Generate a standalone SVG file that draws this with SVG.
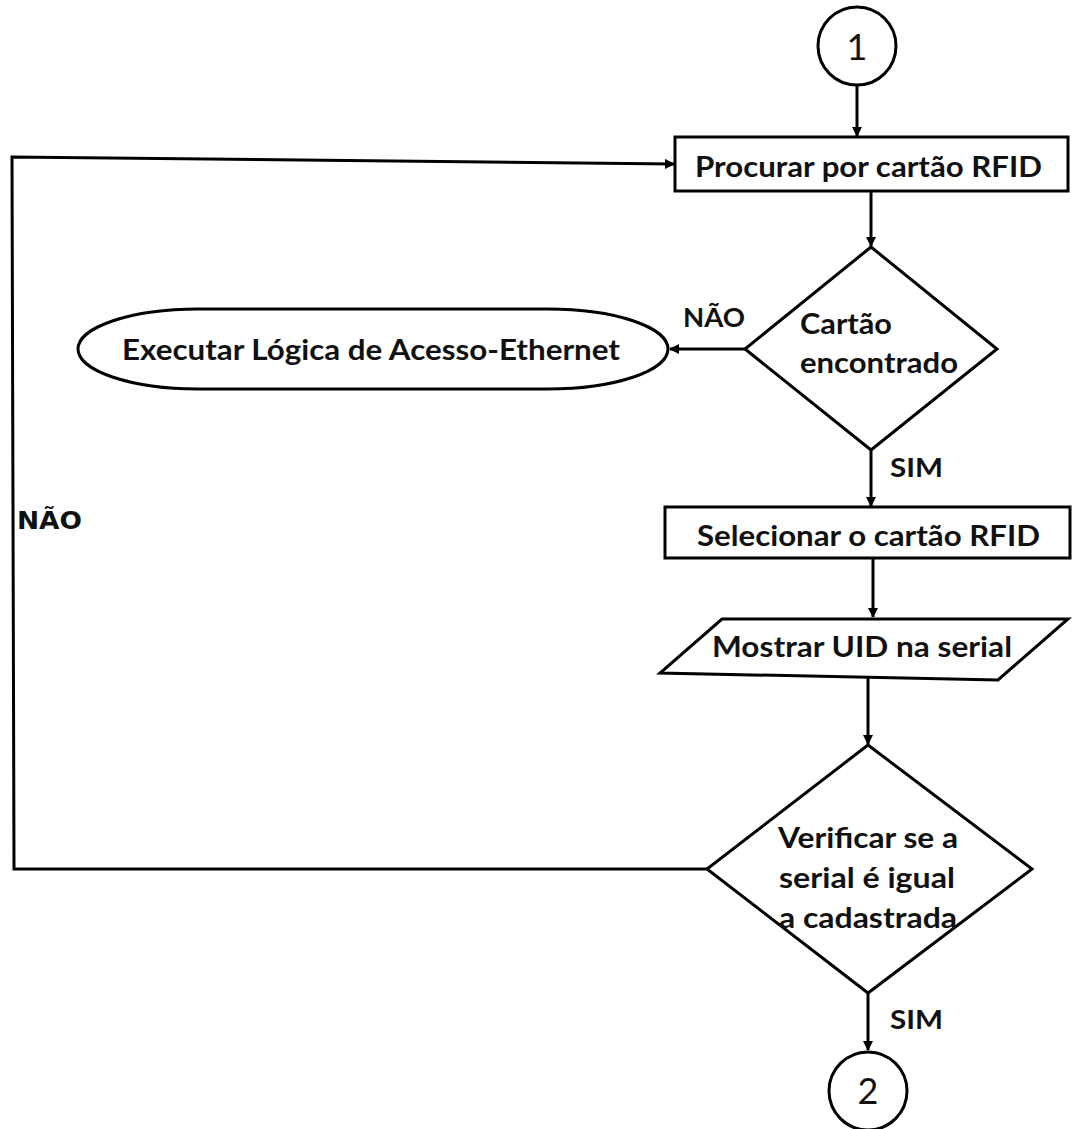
<svg xmlns="http://www.w3.org/2000/svg" width="1072" height="1129" viewBox="0 0 1072 1129">
<style>
.s{fill:#fff;stroke:#000;stroke-width:3}
.c{fill:none;stroke:#000;stroke-width:3}
.t{font-family:Lato,"Open Sans","Liberation Sans",sans-serif;font-weight:bold;font-size:29px;fill:#111}
.l{font-family:Lato,"Liberation Sans",sans-serif;font-weight:bold;font-size:27px;fill:#111}
.v{font-family:"DejaVu Sans","Liberation Sans",sans-serif;font-weight:bold;font-size:24px;fill:#111}
.n{font-family:Lato,"Liberation Sans",sans-serif;font-size:36px;fill:#111}
</style>
<defs>
<marker id="a" markerWidth="10" markerHeight="10" refX="9" refY="5" orient="auto" markerUnits="userSpaceOnUse" viewBox="0 0 10 10">
<path d="M0,0 L10,5 L0,10 z" fill="#000"/>
</marker>
</defs>
<rect width="1072" height="1129" fill="#fff"/>
<g id="connectors">
<line class="c" x1="857" y1="86" x2="857" y2="136" marker-end="url(#a)"/>
<line class="c" x1="871" y1="191" x2="871" y2="246" marker-end="url(#a)"/>
<line class="c" x1="745" y1="349" x2="670" y2="349" marker-end="url(#a)"/>
<line class="c" x1="871" y1="450" x2="871" y2="506" marker-end="url(#a)"/>
<line class="c" x1="873" y1="558" x2="873" y2="617" marker-end="url(#a)"/>
<line class="c" x1="868" y1="678" x2="868" y2="744" marker-end="url(#a)"/>
<line class="c" x1="868" y1="993" x2="868" y2="1050" marker-end="url(#a)"/>
<polyline class="c" points="707,869 14,869 12,157 674,164" marker-end="url(#a)"/>
<text class="l" x="683" y="327" textLength="62" lengthAdjust="spacingAndGlyphs">NÃO</text>
<text class="l" x="890" y="477" textLength="53" lengthAdjust="spacingAndGlyphs">SIM</text>
<text class="l" x="890" y="1029" textLength="53" lengthAdjust="spacingAndGlyphs">SIM</text>
<text class="v" x="17" y="529" textLength="65" lengthAdjust="spacingAndGlyphs">NÃO</text>
</g>
<g id="start1">
<circle class="s" cx="857" cy="46" r="39"/>
<text class="n" x="857" y="60" text-anchor="middle">1</text>
</g>
<g id="procurar">
<rect class="s" x="675" y="137" width="393" height="54"/>
<text class="t" x="695" y="177" textLength="347" lengthAdjust="spacingAndGlyphs">Procurar por cartão RFID</text>
</g>
<g id="cartao">
<polygon class="s" points="871,247 997,349 871,450 745,349"/>
<text class="t" x="800" y="334" textLength="92" lengthAdjust="spacingAndGlyphs">Cartão</text>
<text class="t" x="800" y="373" textLength="158" lengthAdjust="spacingAndGlyphs">encontrado</text>
</g>
<g id="executar">
<rect class="s" x="78" y="309" width="590" height="80" rx="120" ry="40"/>
<text class="t" x="122" y="360" textLength="498" lengthAdjust="spacingAndGlyphs">Executar Lógica de Acesso-Ethernet</text>
</g>
<g id="selecionar">
<rect class="s" x="665" y="507" width="405" height="51"/>
<text class="t" x="697" y="546" textLength="343" lengthAdjust="spacingAndGlyphs">Selecionar o cartão RFID</text>
</g>
<g id="mostrar">
<polygon class="s" points="722,619 1068,619 998,680 660,673"/>
<text class="t" x="712" y="657" textLength="300" lengthAdjust="spacingAndGlyphs">Mostrar UID na serial</text>
</g>
<g id="verificar">
<polygon class="s" points="868,745 1032,869 868,993 707,869"/>
<text class="t" x="778" y="848" textLength="180" lengthAdjust="spacingAndGlyphs">Verificar se a</text>
<text class="t" x="779" y="888" textLength="176" lengthAdjust="spacingAndGlyphs">serial é igual</text>
<text class="t" x="779" y="928" textLength="178" lengthAdjust="spacingAndGlyphs">a cadastrada</text>
</g>
<g id="end2">
<circle class="s" cx="868" cy="1091" r="39"/>
<text class="n" x="868" y="1104" text-anchor="middle">2</text>
</g>
</svg>
